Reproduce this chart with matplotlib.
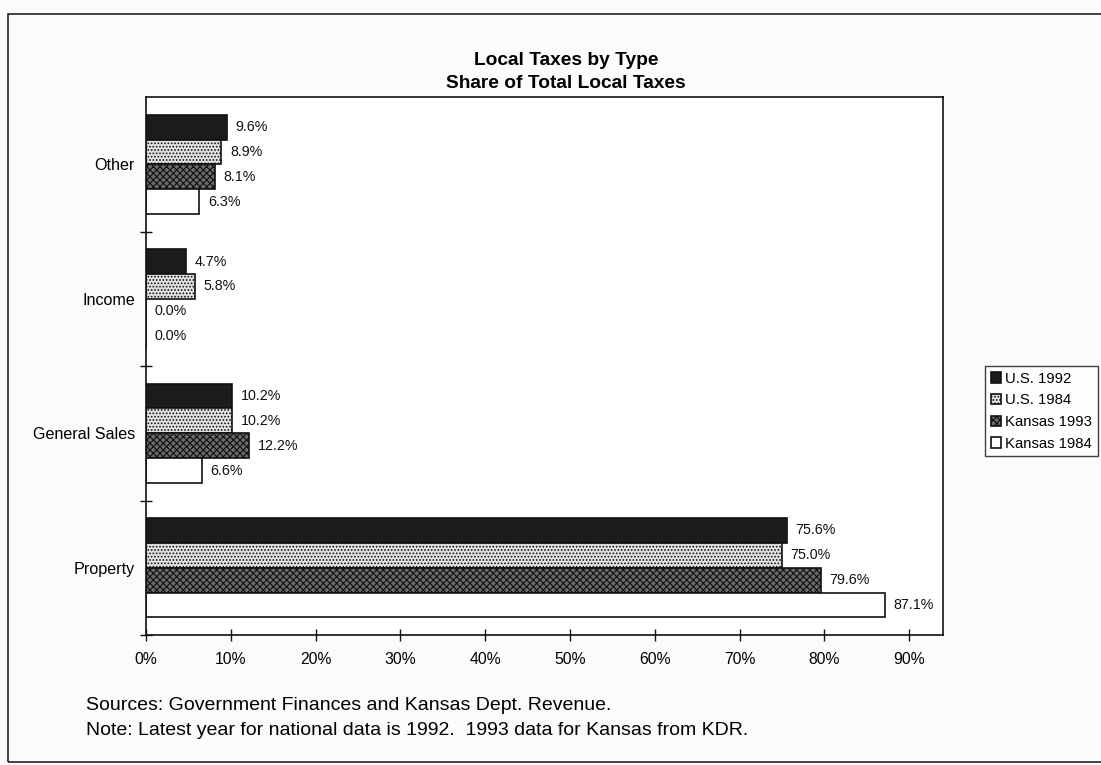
import matplotlib.pyplot as plt
from matplotlib.patches import Rectangle
import numpy as np

plt.rcParams['font.family'] = ['Liberation Sans', 'DejaVu Sans']
plt.rcParams['hatch.linewidth'] = 0.8

categories = ["Property", "General Sales", "Income", "Other"]
series_names = ["U.S. 1992", "U.S. 1984", "Kansas 1993", "Kansas 1984"]
us_1992 = [75.6, 10.2, 4.7, 9.6]
us_1984 = [75.0, 10.2, 5.8, 8.9]
kansas_1993 = [79.6, 12.2, 0.0, 8.1]
kansas_1984 = [87.1, 6.6, 0.0, 6.3]
x_ticks = [0, 10, 20, 30, 40, 50, 60, 70, 80, 90]

series = [us_1992, us_1984, kansas_1993, kansas_1984]
styles = [
    dict(facecolor="#1c1c1c", hatch=None),
    dict(facecolor="#e2e2e2", hatch="....."),
    dict(facecolor="#6a6a6a", hatch="xxxxx"),
    dict(facecolor="white", hatch=None),
]

fig = plt.figure(figsize=(11.01, 7.65), dpi=100)
fig.patch.set_facecolor("#fbfbfa")
ax = fig.add_axes([0.1326, 0.170, 0.7239, 0.703])
ax.set_facecolor("white")

y = np.arange(len(categories))
h = 0.185
offsets = [1.5 * h, 0.5 * h, -0.5 * h, -1.5 * h]

handles = []
for vals, st, off, name in zip(series, styles, offsets, series_names):
    bars = ax.barh(y + off, vals, height=h, facecolor=st["facecolor"],
                   hatch=st["hatch"], edgecolor="#111111", linewidth=1.2,
                   label=name)
    handles.append(bars)
    for yy, v in zip(y + off, vals):
        ax.text(v + 1.0, yy, f"{v:.1f}%", va="center", ha="left",
                fontsize=10.3, color="#111111")

ax.set_xlim(0, 94)
ax.set_ylim(-0.5, 3.5)
ax.set_xticks(x_ticks)
ax.set_xticklabels([f"{t}%" for t in x_ticks], fontsize=11.3)
ax.set_yticks([-0.5, 0.5, 1.5, 2.5])
ax.set_yticklabels([])
ax.set_yticks(y, minor=True)
ax.set_yticklabels(categories, minor=True, fontsize=11.6)
ax.tick_params(axis="y", which="minor", length=0, pad=8)
ax.tick_params(axis="both", which="major", direction="inout", length=8,
               width=1.0, color="#111111")
ax.tick_params(axis="x", pad=8)
for s in ax.spines.values():
    s.set_linewidth(1.2)
    s.set_color("#111111")

fig.legend(handles=handles, labels=series_names, loc="upper left",
           bbox_to_anchor=(0.895, 0.521), fontsize=10.7, frameon=True,
           fancybox=False, edgecolor="#111111", handlelength=0.7,
           handleheight=0.7, handletextpad=0.3, borderpad=0.35,
           labelspacing=0.52, borderaxespad=0)

fig.text(0.514, 0.921, "Local Taxes by Type", ha="center", va="center",
         fontsize=13.8, fontweight="bold")
fig.text(0.514, 0.891, "Share of Total Local Taxes", ha="center",
         va="center", fontsize=13.8, fontweight="bold")

fig.text(0.078, 0.078, "Sources: Government Finances and Kansas Dept. Revenue.",
         ha="left", va="center", fontsize=14)
fig.text(0.078, 0.045,
         "Note: Latest year for national data is 1992.  1993 data for Kansas from KDR.",
         ha="left", va="center", fontsize=14)

# outer page frame
fig.patches.append(Rectangle((0.007, 0.004), 1.1, 0.978, transform=fig.transFigure,
                             fill=False, edgecolor="#222222", linewidth=1.2))

fig.savefig("out.png", dpi=100, facecolor=fig.get_facecolor())
